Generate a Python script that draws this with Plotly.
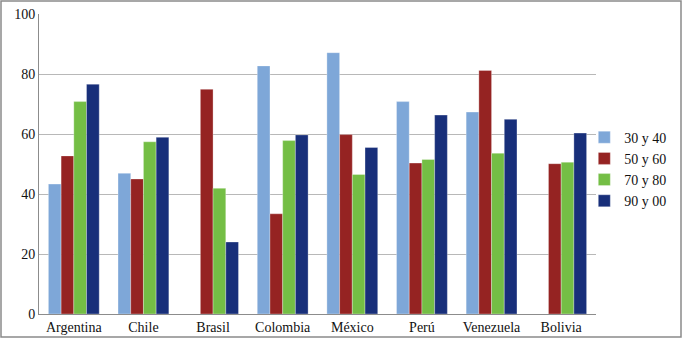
import plotly.graph_objects as go

categories = ["Argentina", "Chile", "Brasil", "Colombia", "México", "Perú", "Venezuela", "Bolivia"]
series_names = ["30 y 40", "50 y 60", "70 y 80", "90 y 00"]
s30_40 = [43.3, 46.9, None, 82.7, 87.1, 70.8, 67.3, None]
s50_60 = [52.7, 45.0, 74.9, 33.4, 59.8, 50.3, 81.2, 50.1]
s70_80 = [70.8, 57.4, 41.9, 57.8, 46.5, 51.5, 53.6, 50.6]
s90_00 = [76.6, 58.9, 24.0, 59.7, 55.5, 66.3, 64.9, 60.3]
y_ticks = [0, 20, 40, 60, 80, 100]

colors = ["#7EA7D8", "#952322", "#74BE45", "#182F7A"]
values = [s30_40, s50_60, s70_80, s90_00]

font_family = "Liberation Serif"
fsize = 14

fig = go.Figure()
for name, vals, col in zip(series_names, values, colors):
    fig.add_trace(go.Bar(
        x=categories, y=vals, name=name,
        marker=dict(color=col, line=dict(color="rgba(255,255,255,0.5)", width=0.6)),
    ))

fig.update_layout(
    width=682, height=339,
    margin=dict(l=39, r=86, t=14, b=25, autoexpand=False),
    paper_bgcolor="white", plot_bgcolor="white",
    barmode="group", bargap=0.27, bargroupgap=0,
    font=dict(family=font_family, size=fsize, color="#111111"),
    showlegend=True,
    legend=dict(
        x=0.979, y=0.483, xanchor="left", yanchor="middle",
        font=dict(family=font_family, size=14, color="#111111"),
        itemwidth=30, tracegroupgap=0, bgcolor="rgba(0,0,0,0)",
    ),
    xaxis=dict(
        showgrid=False, showline=True, linecolor="#8c8c8c", linewidth=1,
        ticks="", tickfont=dict(family=font_family, size=fsize),
    ),
    yaxis=dict(
        range=[0, 100], tickvals=y_ticks, showgrid=True, gridcolor="#b8b8b8", gridwidth=1,
        showline=True, linecolor="#8c8c8c", linewidth=1, ticks="",
        tickfont=dict(family=font_family, size=fsize), zeroline=False,
    ),
    shapes=[dict(type="rect", xref="paper", yref="paper",
                 x0=-38/557, x1=1+85/557, y0=-23/300, y1=1+13/300,
                 line=dict(color="#8a8a8a", width=1.5), fillcolor="rgba(0,0,0,0)")],
)

fig.write_html(
    "out.html",
    config={"displayModeBar": False},
    post_script="document.body.style.margin='0';document.body.style.overflow='hidden';",
)
